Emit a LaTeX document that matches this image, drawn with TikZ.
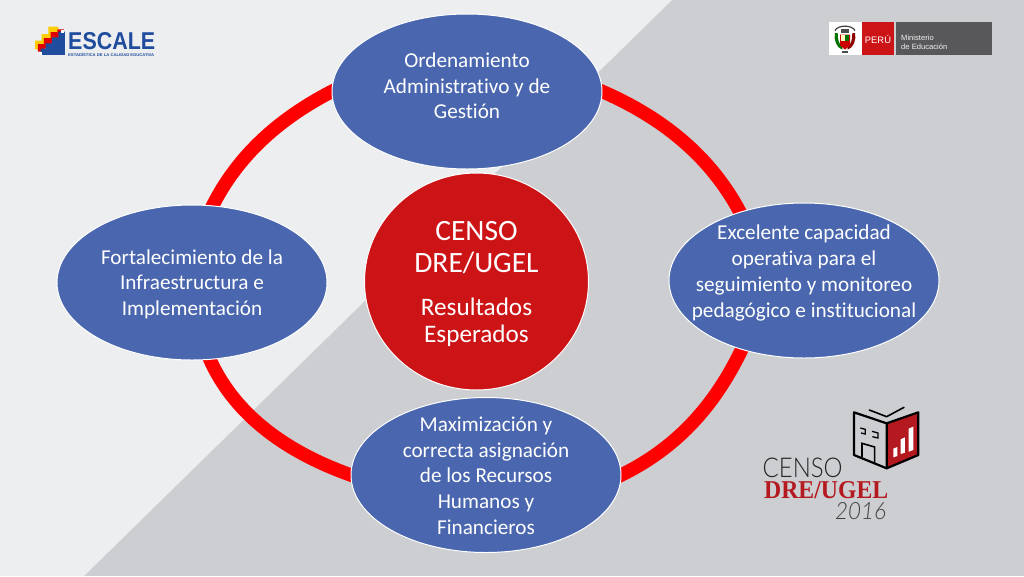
\documentclass[tikz,border=0pt]{standalone}
\usepackage{graphicx}
\usepackage{fontspec}
\setmainfont{Carlito}[Ligatures=NoCommon]
\newfontfamily\logosans{Liberation Sans}
\newfontfamily\logoserif{Liberation Serif}
\newfontfamily\logolight{Lato Light}
\usetikzlibrary{shapes.geometric,backgrounds}
\definecolor{bglight}{HTML}{ECEEF0}
\definecolor{bggrey}{HTML}{CDCED2}
\definecolor{blob}{HTML}{4966AE}
\definecolor{hub}{HTML}{CC1417}
\definecolor{ringred}{HTML}{FF0000}
\definecolor{logored}{HTML}{B3191F}
\definecolor{logoblue}{HTML}{1F4C9C}
\definecolor{mingrey}{HTML}{58585A}
% text block of zero size, so that the ellipse keeps its size; #2 lifts it
\newcommand{\bodytext}[2]{\makebox[0pt]{\smash{\raisebox{#2}{\fontsize{21.2}{25.8}\selectfont\begin{tabular}{@{}c@{}}#1\end{tabular}}}}}
\newcommand{\hubtext}[1]{\makebox[0pt]{\smash{\raisebox{#1}{\fontsize{29.5}{32.5}\selectfont\begin{tabular}{@{}c@{}}CENSO\\DRE/UGEL\\[10pt]\fontsize{25.2}{28}\selectfont Resultados\\[-5pt]\fontsize{25.2}{28}\selectfont Esperados\end{tabular}}}}}
\tikzset{
  every node/.append style={text=white},
  petal/.style={ellipse,draw=white,line width=1pt,fill=blob,minimum width=270pt,minimum height=155pt,inner sep=0pt},
  hubnode/.style={ellipse,draw=white,line width=1pt,fill=hub,minimum width=224pt,minimum height=217pt,inner sep=0pt},
  ring/.style={draw=ringred,line width=13.5pt,shorten >=-8pt,shorten <=-8pt},
}
\begin{document}
\begin{tikzpicture}[x=1pt,y=-1pt]
\useasboundingbox (0,0) rectangle (1024,576);

% nodes
\node[petal] (top) at (467,91.5) {\bodytext{Ordenamiento\\Administrativo y de\\Gestión}{-1.7pt}};
\node[petal] (left) at (192,282.5) {\bodytext{Fortalecimiento de la\\Infraestructura e\\Implementación}{-7.5pt}};
\node[petal] (right) at (804,280.5) {\bodytext{Excelente capacidad\\operativa para el\\seguimiento y monitoreo\\pedagógico e institucional}{2pt}};
\node[petal] (bottom) at (486,475) {\bodytext{Maximización y\\correcta asignación\\de los Recursos\\Humanos y\\Financieros}{-8pt}};
\node[hubnode] (hub) at (476.5,281.5) {\hubtext{-9.5pt}};

% background and connectors (ring), behind the nodes
\begin{scope}[on background layer]
\fill[bggrey] (0,0) rectangle (1024,576);
\fill[bglight] (0,0) -- (672,0) -- (84,576) -- (0,576) -- cycle;
\draw[ring] (top.east) .. controls (664.4,117) and (714.5,160) .. (right.133);
\draw[ring] (right.228) .. controls (718.4,400.5) and (679.9,448.3) .. (bottom.east);
\draw[ring] (bottom.west) .. controls (288.3,454) and (232,415) .. (left.-77);
\draw[ring] (left.75) .. controls (234,159.5) and (276.4,118.7) .. (top.west);
\end{scope}

% ESCALE logo
\begin{scope}[shift={(30,20)},x=0.3333pt,y=-0.3333pt]
\fill[yellow!65!orange] (15,88) -- (15,62) -- (35,62) -- (35,42) -- (55,42) -- (55,20) -- (85,20) -- (85,40) -- (25,88) -- cycle;
\fill[red!88!black] (24,95) -- (24,72) -- (42,72) -- (42,54) -- (62,54) -- (62,36) -- (82,36) -- (82,28) -- (102,28) -- (102,40) -- (34,95) -- cycle;
\fill[logoblue] (32,105) -- (32,86) -- (47,86) -- (47,70) -- (66,70) -- (66,52) -- (85,52) -- (85,35) -- (105,35) -- (105,105) -- cycle;
\fill[white] (27,95) rectangle (36,105);
\fill[white] (94,30) rectangle (102,38);
\end{scope}
\node[anchor=west,inner sep=0pt,text=logoblue] (escale) at (68,41.5) {\resizebox{87pt}{17pt}{\logosans\bfseries ESCALE}};
\node[anchor=west,inner sep=0pt,text=logoblue] (escalesub) at (68,54.5) {\resizebox{86pt}{3.5pt}{\logosans\bfseries ESTADÍSTICA DE LA CALIDAD EDUCATIVA}};

% Ministerio logo
\fill[white] (829.3,22.3) rectangle (862,54.5);
\fill[hub] (862,22.3) rectangle (893.5,54.5);
\fill[mingrey] (895.5,22.3) rectangle (992,54.5);
\begin{scope}[shift={(825,18)},x=0.3333pt,y=-0.3333pt]
\draw[black!75,line width=1.2pt] (30,38) .. controls (38,20) and (82,20) .. (90,38);
\fill[black!55!green] (30,45) .. controls (25,65) and (35,90) .. (52,95) -- (52,85) .. controls (42,80) and (38,65) .. (38,45) -- cycle;
\fill[black!45!red] (90,45) .. controls (95,65) and (85,90) .. (68,95) -- (68,85) .. controls (78,80) and (82,65) .. (82,45) -- cycle;
\fill[red!80!black] (45,50) -- (75,50) -- (75,82) -- (60,95) -- (45,82) -- cycle;
\fill[white!75!yellow] (47,52) rectangle (60,68);
\fill[green!45!black] (60,52) rectangle (73,68);
\fill[black!70] (48,34) rectangle (72,46);
\fill[black!70] (52,98) rectangle (68,104);
\end{scope}
\node[anchor=center,inner sep=0pt,font=\logosans\fontsize{9.4}{11}\selectfont] (peru) at (878,39) {PERÚ};
\node[anchor=west,inner sep=0pt,align=left,font=\logosans\fontsize{7.6}{9}\selectfont,text=white!90!gray] (minedu) at (901,42) {Ministerio\\de Educación};

% CENSO DRE/UGEL logo
\begin{scope}[shift={(750,400)},x=0.3333pt,y=-0.3333pt]
\draw[black,line width=1.6pt,line cap=round,line join=round] (358,30) -- (410,50) -- (462,22);
\fill[logored,draw=black,line width=2.2pt,line join=round] (410,70) -- (505,37) -- (505,165) -- (410,205) -- cycle;
\draw[black,line width=2.2pt,line join=round] (410,70) -- (312,37) -- (312,165) -- (410,205);
\fill[white] (430,146) -- (442,141) -- (442,168) -- (430,172) -- cycle;
\fill[white] (452,118) -- (465,112) -- (465,158) -- (452,162) -- cycle;
\fill[white] (476,86) -- (490,80) -- (490,150) -- (476,155) -- cycle;
\draw[black,line width=1.3pt] (331,84) -- (346,88) -- (346,102) -- (333,99);
\draw[black,line width=1.3pt] (366,94) -- (384,99) -- (384,114) -- (367,110);
\draw[black,line width=1.6pt] (336,172) -- (336,130) -- (374,141) -- (374,190);
\end{scope}
\node[anchor=west,inner sep=0pt,text=black!85] (censo) at (762.5,468) {\resizebox{80pt}{19.5pt}{\logolight CENSO}};
\node[anchor=west,inner sep=0pt,text=logored,text depth=0pt] (dreugel) at (764,489.5) {\resizebox{124pt}{17pt}{\logoserif\bfseries DRE/UGEL}};
\node[anchor=west,inner sep=0pt,text=black!75] (year) at (835,511) {\resizebox{51pt}{17pt}{\logolight\itshape 2016}};
\end{tikzpicture}
\end{document}
